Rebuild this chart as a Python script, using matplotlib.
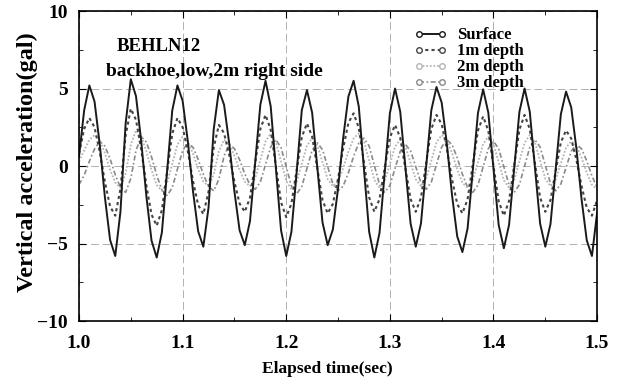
import numpy as np
import matplotlib
matplotlib.use('Agg')
import matplotlib.pyplot as plt
from matplotlib.lines import Line2D
from matplotlib.ticker import MultipleLocator

t_start, t_end = 1.0, 1.5
surface = [0.6, 3.6, 5.2, 4.16, 1.41, -2.01, -4.76, -5.8, -2.95, 2.75,
           5.6, 4.51, 1.63, -1.93, -4.81, -5.9, -4.28, -0.35, 3.58, 5.2,
           4.21, 1.61, -1.61, -4.21, -5.2, -2.68, 2.37, 4.9, 3.95, 1.45,
           -1.65, -4.15, -5.1, -3.55, 0.2, 3.95, 5.5, 3.85, -0.15, -4.15,
           -5.8, -4.24, -0.45, 3.6, 4.9, 3.44, -0.1, -3.64, -5.1, -4.09,
           -1.44, 1.84, 4.49, 5.5, 3.84, -0.2, -4.24, -5.9, -4.31, -0.45,
           3.41, 5.0, 3.51, -0.1, -3.71, -5.2, -3.7, -0.05, 3.6, 5.1,
           4.09, 1.43, -1.88, -4.54, -5.55, -4.02, -0.3, 3.42, 4.95, 3.45,
           -0.18, -3.8, -5.3, -3.8, -0.15, 3.5, 5.0, 3.51, -0.1, -3.71,
           -5.2, -3.74, -0.2, 3.34, 4.8, 3.79, 1.14, -2.14, -4.79, -5.8,
           -3.0]
depth_1m = [0.8, 2.4, 3.1, 2.5, 0.93, -1.03, -2.6, -3.2, -1.48, 1.98,
            3.7, 2.98, 1.1, -1.25, -3.13, -3.85, -2.84, -0.38, 2.09, 3.1,
            2.51, 0.96, -0.96, -2.51, -3.1, -1.66, 1.21, 2.65, 2.12, 0.72,
            -1.02, -2.42, -2.95, -2.04, 0.18, 2.39, 3.3, 2.34, 0.0, -2.34,
            -3.3, -2.42, -0.28, 1.87, 2.75, 1.9, -0.15, -2.2, -3.05, -2.44,
            -0.82, 1.17, 2.79, 3.4, 2.47, 0.23, -2.02, -2.95, -2.13, -0.15,
            1.83, 2.65, 1.83, -0.15, -2.13, -2.95, -2.04, 0.18, 2.39, 3.3,
            2.7, 1.11, -0.86, -2.45, -3.05, -2.14, 0.08, 2.29, 3.2, 2.27,
            0.0, -2.27, -3.2, -2.25, 0.05, 2.35, 3.3, 2.39, 0.18, -2.04,
            -2.95, -2.18, -0.33, 1.53, 2.3, 1.78, 0.4, -1.3, -2.68, -3.2,
            -2.2]
depth_2m = [0.3, 1.0, 1.7, 2.0, 1.68, 0.83, -0.23, -1.08, -1.4, -0.48,
            1.37, 2.3, 1.93, 0.95, -0.25, -1.23, -1.6, -1.09, 0.15, 1.39,
            1.9, 1.6, 0.8, -0.2, -1.0, -1.3, -0.55, 0.95, 1.7, 1.42,
            0.67, -0.26, -1.01, -1.3, -0.8, 0.4, 1.6, 2.1, 1.57, 0.3,
            -0.97, -1.5, -1.02, 0.15, 1.32, 1.8, 1.35, 0.25, -0.85, -1.3,
            -0.98, -0.13, 0.93, 1.78, 2.1, 1.59, 0.35, -0.89, -1.4, -0.95,
            0.15, 1.25, 1.7, 1.26, 0.2, -0.86, -1.3, -0.82, 0.35, 1.52,
            2.0, 1.68, 0.83, -0.23, -1.08, -1.4, -0.92, 0.25, 1.42, 1.9,
            1.42, 0.25, -0.92, -1.4, -0.9, 0.3, 1.5, 2.0, 1.52, 0.35,
            -0.82, -1.3, -0.88, 0.15, 1.18, 1.6, 1.31, 0.53, -0.43, -1.21,
            -1.5]
depth_3m = [-1.2, -0.6, 0.3, 1.1, 1.6, 1.29, 0.46, -0.56, -1.39, -1.7,
            -0.8, 1.0, 1.9, 1.54, 0.59, -0.59, -1.54, -1.9, -1.4, -0.2,
            1.0, 1.5, 1.21, 0.43, -0.53, -1.31, -1.6, -0.85, 0.65, 1.4,
            1.12, 0.4, -0.5, -1.22, -1.5, -1.03, 0.1, 1.23, 1.7, 1.19,
            -0.05, -1.29, -1.8, -1.32, -0.15, 1.02, 1.5, 1.05, -0.05, -1.15,
            -1.6, -1.28, -0.43, 0.63, 1.48, 1.8, 1.29, 0.05, -1.19, -1.7,
            -1.25, -0.15, 0.95, 1.4, 0.98, -0.05, -1.08, -1.5, -1.03, 0.1,
            1.23, 1.7, 1.38, 0.53, -0.53, -1.38, -1.7, -1.22, -0.05, 1.12,
            1.6, 1.12, -0.05, -1.22, -1.7, -1.2, 0.0, 1.2, 1.7, 1.22,
            0.05, -1.12, -1.6, -1.16, -0.1, 0.96, 1.4, 1.11, 0.33, -0.63,
            -1.41]
labels = ['Surface', '1m depth', '2m depth', '3m depth']

time = np.linspace(t_start, t_end, len(surface))

plt.rcParams['font.family'] = ['Liberation Serif', 'DejaVu Serif']
plt.rcParams['font.weight'] = 'bold'
plt.rcParams['axes.labelweight'] = 'bold'
plt.rcParams['axes.unicode_minus'] = True

fig = plt.figure(figsize=(6.22, 3.80), dpi=100)
ax = fig.add_axes([0.127, 0.155, 0.833, 0.816])

styles = [
    dict(color='#1a1a1a', linestyle='-', linewidth=1.4),
    dict(color='#444444', linestyle=(0, (1.5, 1.5)), linewidth=1.5),
    dict(color='#b5b5b5', linestyle=(0, (1, 1)), linewidth=1.3),
    dict(color='#8a8a8a', linestyle=(0, (3, 1.5, 1, 1.5)), linewidth=1.2),
]
series = [surface, depth_1m, depth_2m, depth_3m]

# draw deeper series first so the surface sits on top
for vals, st in reversed(list(zip(series, styles))):
    ax.plot(time, vals, **st)

ax.set_xlim(1.0, 1.5)
ax.set_ylim(-10, 10)
ax.xaxis.set_major_locator(MultipleLocator(0.1))
ax.xaxis.set_minor_locator(MultipleLocator(0.05))
ax.yaxis.set_major_locator(MultipleLocator(5))
ax.yaxis.set_minor_locator(MultipleLocator(2.5))
ax.xaxis.set_major_formatter(matplotlib.ticker.FormatStrFormatter('%.1f'))
ax.tick_params(which='both', direction='in', top=True, right=True, labelsize=14)
ax.tick_params(axis='x', pad=10)
ax.tick_params(axis='y', pad=8)
ax.tick_params(which='major', length=5)
ax.tick_params(which='minor', length=3)
ax.grid(True, which='major', color='#b0b0b0', linestyle=(0, (8, 4)), linewidth=0.7)
for spine in ax.spines.values():
    spine.set_linewidth(1.2)

ax.set_xlabel('Elapsed time(sec)', fontsize=12.5, fontweight='bold')
ax.xaxis.set_label_coords(0.48, -0.13)
ax.set_ylabel('Vertical acceleration(gal)', fontsize=17.5, fontweight='bold')
ax.yaxis.set_label_coords(-0.08, 0.513)

ax.text(0.072, 0.872, 'BEHLN12', transform=ax.transAxes, fontsize=13.5)
ax.text(0.052, 0.79, 'backhoe,low,2m right side', transform=ax.transAxes, fontsize=14)

handles = [Line2D([0], [0], marker='o', markersize=4, markerfacecolor='white',
                  markeredgewidth=1.0, **st) for st in styles]
ax.legend(handles, labels, loc='upper right', bbox_to_anchor=(0.885, 0.99),
          frameon=False, numpoints=2, handlelength=2.0, labelspacing=0.0,
          handletextpad=0.6, borderpad=0.3, prop={'size': 12, 'weight': 'bold'})

fig.savefig('out.png', dpi=100)
